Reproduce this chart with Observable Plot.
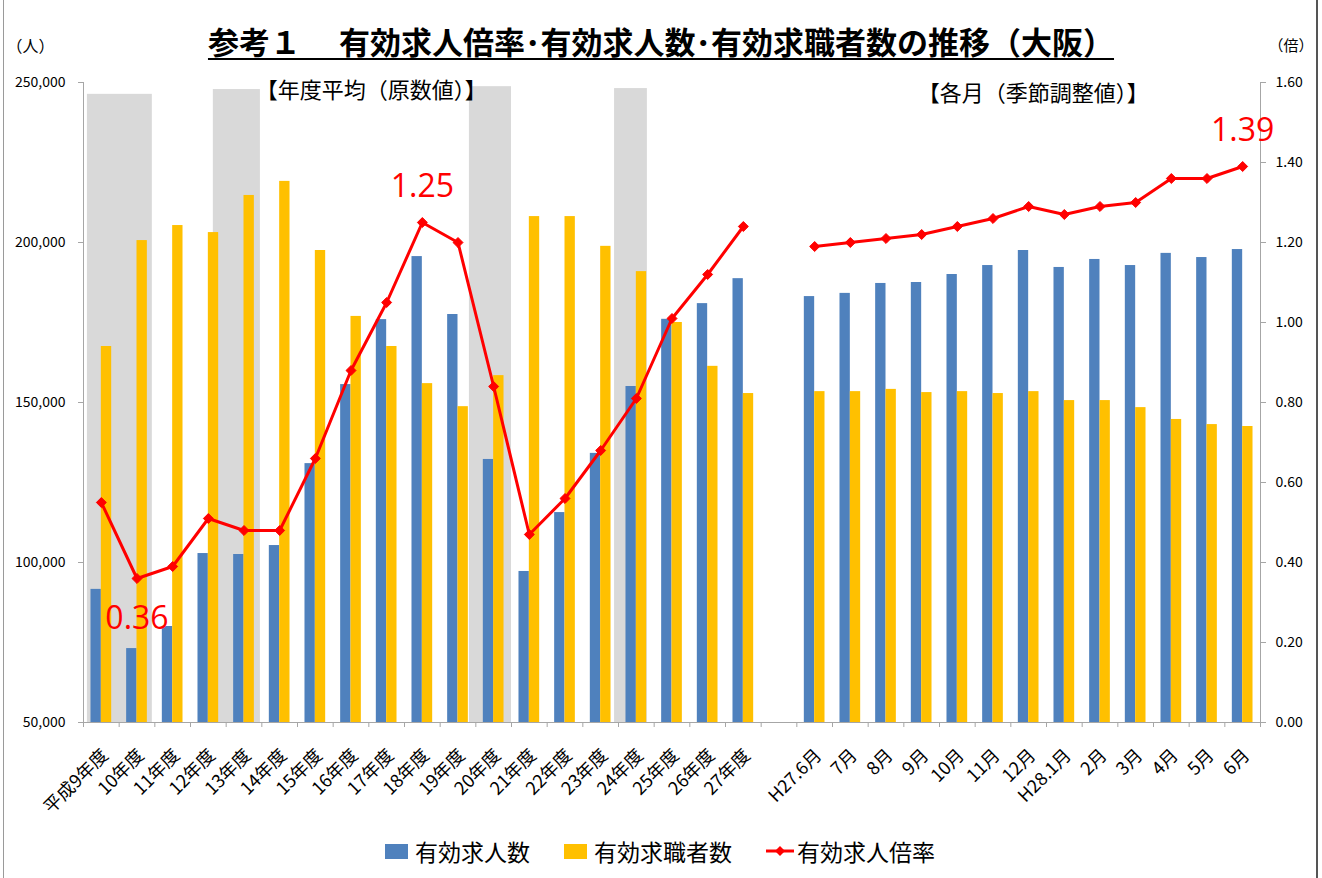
<!DOCTYPE html>
<html><head><meta charset="utf-8">
<script src="https://cdn.jsdelivr.net/npm/d3@7"></script>
<script src="https://cdn.jsdelivr.net/npm/@observablehq/plot@0.6"></script>
<style>
body{margin:0;background:#fff;font-family:"Noto Sans CJK JP","Noto Sans",sans-serif;}
#wrap{position:relative;width:1322px;height:878px;overflow:hidden;background:#fff}
#chart{position:absolute;left:0;top:0}
.frameL{position:absolute;left:3px;top:0;width:1px;height:878px;background:#9a9a9a}
.frameR{position:absolute;left:1316px;top:0;width:2px;height:878px;background:#555}
#title{position:absolute;left:0;width:1322px;top:22px;text-align:center;font-weight:bold;font-size:31px;line-height:38px;color:#000;text-decoration:underline;text-decoration-thickness:2px;text-underline-offset:4px}
#legend{position:absolute;top:834px;left:385px;display:flex;align-items:center;font-size:23px;color:#000}
#legend .it{display:flex;align-items:center;margin-right:34px}
#legend .sw{width:23px;height:15px;margin-right:7px}
</style></head><body>
<div id="wrap">
  <div class="frameL"></div><div class="frameR"></div>
  <div id="chart"></div>
  <div id="title">参考１　 有効求人倍率･有効求人数･有効求職者数の推移（大阪）</div>
  <div id="legend">
    <div class="it"><div class="sw" style="background:#4F81BD"></div>有効求人数</div>
    <div class="it"><div class="sw" style="background:#FFC000"></div>有効求職者数</div>
    <div class="it"><svg width="28" height="16" style="margin-right:3px"><line x1="0" y1="8" x2="28" y2="8" stroke="#FF0000" stroke-width="3"/><path d="M14,3 L19,8 L14,13 L9,8Z" fill="#FF0000"/></svg>有効求人倍率</div>
  </div>
</div>
<script>
// ---- data ----
const yearLabels = ["平成9年度","10年度","11年度","12年度","13年度","14年度","15年度","16年度","17年度","18年度","19年度","20年度","21年度","22年度","23年度","24年度","25年度","26年度","27年度"];
const yearOffers  = [91600, 73100, 80000, 102800, 102500, 105300, 130900, 155600, 175900, 195600, 177500, 132200, 97200, 115600, 134100, 155000, 176000, 180900, 188700];
const yearSeekers = [167500, 200600, 205300, 203100, 214700, 219100, 197500, 176900, 167500, 155900, 148700, 158400, 208100, 208100, 198800, 190900, 175000, 161300, 152800];
const yearRatio   = [0.55, 0.36, 0.39, 0.51, 0.48, 0.48, 0.66, 0.88, 1.05, 1.25, 1.20, 0.84, 0.47, 0.56, 0.68, 0.81, 1.01, 1.12, 1.24];

const monthLabels  = ["H27.6月","7月","8月","9月","10月","11月","12月","H28.1月","2月","3月","4月","5月","6月"];
const monthOffers  = [183100, 184100, 187200, 187500, 190000, 192800, 197500, 192200, 194700, 192800, 196600, 195300, 197800];
const monthSeekers = [153400, 153400, 154100, 153100, 153400, 152800, 153400, 150600, 150600, 148400, 144700, 143100, 142500];
const monthRatio   = [1.19, 1.20, 1.21, 1.22, 1.24, 1.26, 1.29, 1.27, 1.29, 1.30, 1.36, 1.36, 1.39];

// recession periods (景気後退期) in category units
const recessions = [
  {start: 0.11, end: 1.93, top: 246300},
  {start: 3.64, end: 4.96, top: 247800},
  {start: 10.82, end: 12.0, top: 248700},
  {start: 14.89, end: 15.81, top: 248100}
];
const callouts = [
  {label: "0.36", group: "year", idx: 1, pos: "below"},
  {label: "1.25", group: "year", idx: 9, pos: "above"},
  {label: "1.39", group: "month", idx: 12, pos: "above"}
];

// ---- build table ----
const gapSlots = 1;
const rows = [
  ...yearLabels.map((label, i) => ({label, slot: i, offers: yearOffers[i], seekers: yearSeekers[i], ratio: yearRatio[i], group: "year"})),
  ...monthLabels.map((label, i) => ({label, slot: yearLabels.length + gapSlots + i, offers: monthOffers[i], seekers: monthSeekers[i], ratio: monthRatio[i], group: "month"}))
];
const nSlots = yearLabels.length + gapSlots + monthLabels.length;
const yMin = 50000, yMax = 250000, rMax = 1.6;
const toY = r => yMin + r / rMax * (yMax - yMin);
const callRows = callouts.map(c => {
  const r = rows.filter(d => d.group === c.group)[c.idx];
  return {...c, slot: r.slot, ratio: r.ratio};
});

const font = "'Noto Sans CJK JP','Noto Sans',sans-serif";
const numFont = "'Open Sans','Noto Sans',sans-serif";
const chart = Plot.plot({
  width: 1322, height: 878,
  marginLeft: 83, marginRight: 62, marginTop: 82, marginBottom: 156,
  style: {fontFamily: font, fontSize: "14px", background: "transparent", overflow: "visible"},
  x: {domain: [0, nSlots], axis: null},
  y: {domain: [yMin, yMax], axis: null},
  marks: [
    Plot.rect(recessions, {x1: "start", x2: "end", y1: yMin, y2: "top", fill: "#D9D9D9"}),
    Plot.rect(rows, {x1: d => d.slot + 0.21, x2: d => d.slot + 0.5, y1: yMin, y2: "offers", fill: "#4F81BD"}),
    Plot.rect(rows, {x1: d => d.slot + 0.5, x2: d => d.slot + 0.79, y1: yMin, y2: "seekers", fill: "#FFC000"}),
    // axis lines
    Plot.ruleX([0], {y1: yMin, y2: yMax, stroke: "#a6a6a6"}),
    Plot.ruleX([nSlots], {y1: yMin, y2: yMax, stroke: "#a6a6a6"}),
    Plot.ruleY([yMin], {x1: 0, x2: nSlots, stroke: "#a6a6a6"}),
    Plot.axisX({ticks: d3.range(nSlots + 1), tickFormat: () => "", tickSize: 5, stroke: "#a6a6a6", label: null}),
    Plot.axisY({anchor: "left", ticks: d3.range(yMin, yMax + 1, 50000), tickFormat: d3.format(","), tickSize: 5, tickPadding: 13, stroke: "#a6a6a6", fontSize: 14, label: null}),
    Plot.axisY({anchor: "right", ticks: d3.range(0, 9).map(i => toY(i * 0.2)), tickFormat: d => ((d - yMin) / (yMax - yMin) * rMax).toFixed(2), tickSize: 5, tickPadding: 10, stroke: "#a6a6a6", fontSize: 14, label: null}),
    // category labels
    Plot.text(rows, {x: d => d.slot + 0.5, y: yMin, text: "label", rotate: -45, textAnchor: "end", lineAnchor: "bottom", dx: 8, dy: 34, fontSize: 18, fill: "#000"}),
    // ratio line
    Plot.line(rows, {x: d => d.slot + 0.5, y: d => toY(d.ratio), z: "group", stroke: "#FF0000", strokeWidth: 3}),
    Plot.dot(rows, {x: d => d.slot + 0.5, y: d => toY(d.ratio), symbol: "diamond2", r: 4.5, fill: "#FF0000", stroke: "#FF0000", strokeWidth: 1}),
    // callouts
    Plot.text(callRows.filter(d => d.pos === "below"), {x: d => d.slot + 0.5, y: d => toY(d.ratio), text: "label", dy: 40, fontSize: 32, fill: "#FF0000", fontFamily: numFont}),
    Plot.text(callRows.filter(d => d.pos === "above"), {x: d => d.slot + 0.5, y: d => toY(d.ratio), text: "label", dy: -36, fontSize: 32, fill: "#FF0000", fontFamily: numFont}),
    // units and section headings
    Plot.text(["（人）"], {x: 0, y: yMax, dx: -77, dy: -36, fontSize: 16, textAnchor: "start", fill: "#000"}),
    Plot.text(["（倍）"], {x: nSlots, y: yMax, dx: 8, dy: -36, fontSize: 15, textAnchor: "start", fill: "#000"}),
    Plot.text(["【年度平均（原数値）】"], {x: 5, y: yMax, dx: -6, dy: 8, fontSize: 22, textAnchor: "start", fill: "#000"}),
    Plot.text(["【各月（季節調整値）】"], {x: 23.5, y: yMax, dx: -4, dy: 11, fontSize: 22, textAnchor: "start", fill: "#000"})
  ]
});
document.getElementById("chart").appendChild(chart);
</script>
</body></html>
